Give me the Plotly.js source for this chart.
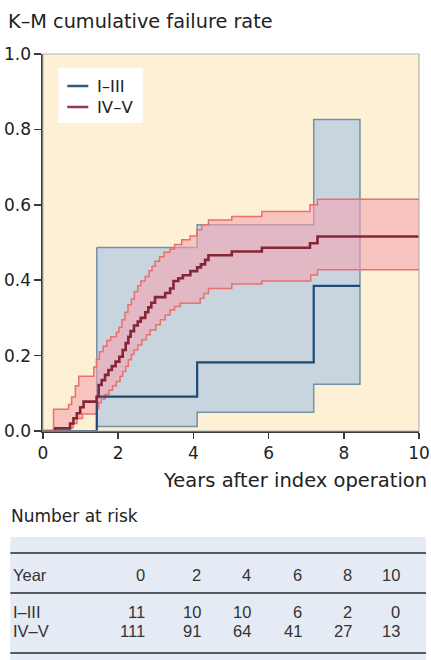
<!DOCTYPE html>
<html>
<head>
<meta charset="utf-8">
<script src="https://cdn.plot.ly/plotly-3.0.1.min.js"></script>
<style>
html,body{margin:0;padding:0;background:#fff;}
#chart{width:431px;height:660px;}
</style>
</head>
<body>
<div id="chart"></div>
<script>
// ---------- DATA ----------
const groups = ['I–III', 'IV–V'];

// Group I–III Kaplan–Meier (step start x, value)
const g1X = [0, 1.43, 4.10, 7.20, 8.43];
const g1Y = [0, 0.091, 0.182, 0.385, 0.385];
const g1BandX = [1.43, 4.10, 7.20, 8.43];
const g1Upper = [0.487, 0.547, 0.826, 0.826];
const g1Lower = [0.012, 0.050, 0.124, 0.124];

// Group IV–V Kaplan–Meier
const g2X = [0, 0.33, 0.72, 0.81, 0.90, 0.99, 1.08, 1.43, 1.48, 1.56, 1.65, 1.74, 1.83, 1.93, 2.03, 2.12, 2.20, 2.27, 2.33, 2.42, 2.52, 2.60, 2.72, 2.80, 2.88, 2.98, 3.25, 3.38, 3.47, 3.60, 3.72, 3.92, 4.10, 4.20, 4.31, 4.40, 5.02, 5.82, 7.10, 7.30, 10];
const g2Y = [0, 0.007, 0.020, 0.034, 0.047, 0.063, 0.078, 0.091, 0.122, 0.135, 0.149, 0.162, 0.172, 0.184, 0.197, 0.215, 0.233, 0.250, 0.265, 0.280, 0.290, 0.300, 0.315, 0.328, 0.340, 0.355, 0.366, 0.378, 0.398, 0.405, 0.413, 0.424, 0.434, 0.442, 0.454, 0.466, 0.476, 0.486, 0.498, 0.516, 0.516];
const g2UpX = [0, 0.28, 0.68, 0.76, 0.86, 0.95, 1.35, 1.42, 1.50, 1.60, 1.70, 1.80, 1.95, 2.02, 2.10, 2.18, 2.26, 2.35, 2.43, 2.52, 2.60, 2.72, 2.82, 2.90, 2.98, 3.10, 3.22, 3.38, 3.50, 3.69, 3.91, 4.09, 4.22, 4.40, 5.02, 5.82, 7.10, 7.30, 10];
const g2Upper = [0, 0.058, 0.070, 0.090, 0.120, 0.145, 0.170, 0.190, 0.210, 0.225, 0.240, 0.250, 0.262, 0.275, 0.295, 0.315, 0.335, 0.350, 0.370, 0.385, 0.398, 0.410, 0.425, 0.437, 0.450, 0.462, 0.474, 0.483, 0.495, 0.507, 0.517, 0.534, 0.547, 0.560, 0.569, 0.582, 0.600, 0.615, 0.615];
const g2LoX = [0, 0.70, 0.80, 0.90, 1.05, 1.43, 1.48, 1.55, 1.65, 1.75, 1.85, 1.95, 2.05, 2.12, 2.20, 2.27, 2.35, 2.42, 2.52, 2.63, 2.75, 2.85, 3.00, 3.12, 3.25, 3.38, 3.50, 3.65, 4.18, 4.28, 4.40, 5.02, 5.82, 7.12, 7.30, 10];
const g2Lower = [0, 0.008, 0.020, 0.033, 0.045, 0.060, 0.075, 0.085, 0.097, 0.108, 0.120, 0.131, 0.145, 0.158, 0.172, 0.189, 0.203, 0.215, 0.228, 0.242, 0.255, 0.268, 0.282, 0.295, 0.308, 0.321, 0.330, 0.339, 0.352, 0.365, 0.378, 0.390, 0.398, 0.414, 0.428, 0.428];

// Number at risk table
const riskYears = [0, 2, 4, 6, 8, 10];
const riskG1 = [11, 10, 10, 6, 2, 0];
const riskG2 = [111, 91, 64, 41, 27, 13];

const yTicks = [0, 0.2, 0.4, 0.6, 0.8, 1.0];
const xTicks = [0, 2, 4, 6, 8, 10];

// ---------- helpers ----------
function stepPts(xs, ys) {
  const px = [], py = [];
  for (let i = 0; i < xs.length; i++) {
    px.push(xs[i]); py.push(ys[i]);
    if (i + 1 < xs.length) { px.push(xs[i + 1]); py.push(ys[i]); }
  }
  return {x: px, y: py};
}
function bandPoly(upX, up, loX, lo) {
  const u = stepPts(upX, up), l = stepPts(loX, lo);
  return {x: u.x.concat(l.x.slice().reverse(), [u.x[0]]),
          y: u.y.concat(l.y.slice().reverse(), [u.y[0]])};
}
// pixel -> paper
const PL = 42.7, PR = 419, PT = 54, PB = 431;
const W = 431, H = 660;
const ppx = p => (p - PL) / (PR - PL);
const ppy = p => (PB - p) / (PB - PT);

const FONT = '"DejaVu Sans", Verdana, sans-serif';
const TFONT = 'Liberation Sans, Arial, sans-serif';
const TXT = '#222222';

const blueBand = bandPoly(g1BandX, g1Upper, g1BandX, g1Lower);
const redBand = bandPoly(g2UpX, g2Upper, g2LoX, g2Lower);

const traces = [
  {x: blueBand.x, y: blueBand.y, mode: 'lines', fill: 'toself',
   fillcolor: '#c9d5de', line: {color: '#7591a6', width: 1.5}, hoverinfo: 'skip', showlegend: false},
  {x: redBand.x, y: redBand.y, mode: 'lines', fill: 'toself',
   fillcolor: 'rgba(246,160,176,0.56)', line: {width: 0}, hoverinfo: 'skip', showlegend: false},
  {x: g2UpX, y: g2Upper, mode: 'lines', line: {shape: 'hv', color: '#e8706f', width: 1.5}, showlegend: false},
  {x: g2LoX, y: g2Lower, mode: 'lines', line: {shape: 'hv', color: '#e8706f', width: 1.5}, showlegend: false},
  {x: g1X, y: g1Y, name: groups[0], mode: 'lines', line: {shape: 'hv', color: '#1e4b73', width: 2.2}, showlegend: false},
  {x: g2X, y: g2Y, name: groups[1], mode: 'lines', line: {shape: 'hv', color: '#862535', width: 2.6}, showlegend: false}
];

const shapes = [];
const annotations = [];

// plot frame (light top/right)
shapes.push({type: 'rect', xref: 'paper', yref: 'paper', x0: 0, x1: 1, y0: 0, y1: 1,
  line: {color: '#b5b5b5', width: 1.2}, layer: 'above'});

// manual legend
shapes.push({type: 'rect', xref: 'paper', yref: 'paper', x0: ppx(58), x1: ppx(143), y0: ppy(123), y1: ppy(68),
  fillcolor: '#ffffff', line: {width: 0}, layer: 'above'});
shapes.push({type: 'line', xref: 'paper', yref: 'paper', x0: ppx(67), x1: ppx(88), y0: ppy(86), y1: ppy(86),
  line: {color: '#2a5b82', width: 2.5}, layer: 'above'});
shapes.push({type: 'line', xref: 'paper', yref: 'paper', x0: ppx(67), x1: ppx(88), y0: ppy(107), y1: ppy(107),
  line: {color: '#973947', width: 2.5}, layer: 'above'});
annotations.push({text: groups[0], xref: 'paper', yref: 'paper', x: ppx(95), y: ppy(86), xanchor: 'left', yanchor: 'middle',
  showarrow: false, font: {family: FONT, size: 16.5, color: TXT}});
annotations.push({text: groups[1], xref: 'paper', yref: 'paper', x: ppx(95), y: ppy(107), xanchor: 'left', yanchor: 'middle',
  showarrow: false, font: {family: FONT, size: 16.5, color: TXT}});

// x axis title (right aligned)
annotations.push({text: 'Years after index operation', xref: 'paper', yref: 'paper', x: ppx(429), y: ppy(480),
  xanchor: 'right', yanchor: 'middle', showarrow: false, font: {family: FONT, size: 19.5, color: TXT}});

// Number at risk
annotations.push({text: 'Number at risk', xref: 'paper', yref: 'paper', x: ppx(9), y: ppy(516),
  xanchor: 'left', yanchor: 'middle', showarrow: false, font: {family: FONT, size: 17, color: TXT}});
shapes.push({type: 'rect', xref: 'paper', yref: 'paper', x0: ppx(10), x1: ppx(426), y0: ppy(660), y1: ppy(537),
  fillcolor: '#e5ebf5', line: {width: 0}, layer: 'below'});
[553, 593, 653].forEach(py => shapes.push({type: 'line', xref: 'paper', yref: 'paper', x0: ppx(10), x1: ppx(426),
  y0: ppy(py), y1: ppy(py), line: {color: '#2b2b2b', width: 1.3}}));

const colRight = [146, 202, 252, 303, 353, 401];
const rowY = {head: 575, g1: 612, g2: 631};
const tFont = {family: TFONT, size: 16.5, color: '#333333'};
function tAnn(text, x, y, anchor) {
  annotations.push({text: String(text), xref: 'paper', yref: 'paper', x: ppx(x), y: ppy(y),
    xanchor: anchor, yanchor: 'middle', showarrow: false, font: tFont, borderpad: 0});
}
tAnn('Year', 12, rowY.head, 'left');
tAnn(groups[0], 12, rowY.g1, 'left');
tAnn(groups[1], 12, rowY.g2, 'left');
riskYears.forEach((yr, i) => {
  tAnn(yr, colRight[i], rowY.head, 'right');
  tAnn(riskG1[i], colRight[i], rowY.g1, 'right');
  tAnn(riskG2[i], colRight[i], rowY.g2, 'right');
});

const layout = {
  width: W, height: H,
  margin: {l: PL, r: W - PR, t: PT, b: H - PB, pad: 0},
  paper_bgcolor: '#ffffff',
  plot_bgcolor: '#fdf0d4',
  showlegend: false,
  title: {text: 'K–M cumulative failure rate', xref: 'container', yref: 'container',
    x: 8 / W, xanchor: 'left', y: 1 - 21 / H, yanchor: 'middle',
    font: {family: FONT, size: 19.3, color: TXT}},
  xaxis: {range: [0, 10], tickvals: xTicks, ticktext: xTicks.map(String), showgrid: false, zeroline: false,
    showline: true, linecolor: '#3a3a3a', linewidth: 1.6, ticks: 'outside', ticklen: 6, tickwidth: 1.6,
    tickcolor: '#3a3a3a', tickfont: {family: FONT, size: 17, color: TXT}, fixedrange: true},
  yaxis: {range: [0, 1], tickvals: yTicks, ticktext: yTicks.map(v => v.toFixed(1)), showgrid: false, zeroline: false,
    showline: true, linecolor: '#3a3a3a', linewidth: 1.6, ticks: 'outside', ticklen: 7, tickwidth: 1.6,
    tickcolor: '#3a3a3a', tickfont: {family: FONT, size: 17, color: TXT}, fixedrange: true},
  shapes: shapes,
  annotations: annotations
};

Plotly.newPlot('chart', traces, layout, {displayModeBar: false, staticPlot: true});
</script>
</body>
</html>
